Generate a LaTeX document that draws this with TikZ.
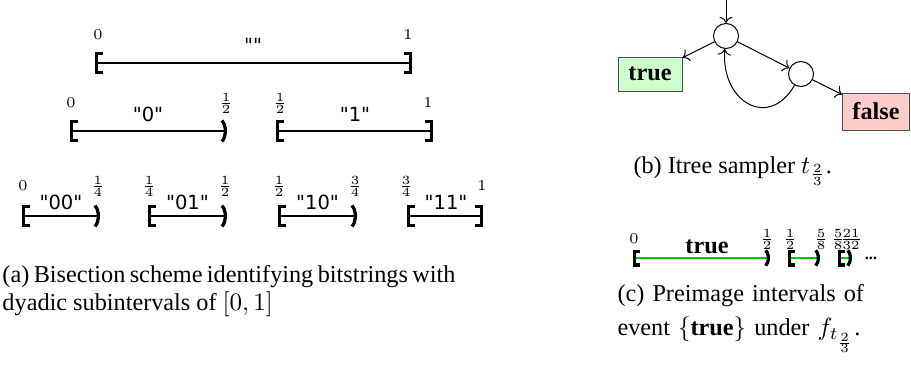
\documentclass[tikz,border=0pt]{standalone}
\usepackage[no-math]{fontspec}
\setmainfont{Liberation Serif}
\newfontfamily\bitsfont{DejaVu Sans}
\usetikzlibrary{arrows.meta,positioning}

\begin{document}
\begin{tikzpicture}[x=0.4pt,y=0.4pt,
    LB/.tip={Bracket[width=8.8pt,length=2.6pt,line width=1.3pt]},
    RB/.tip={Bracket[width=8.8pt,length=2.6pt,line width=1.3pt]},
    RP/.tip={Parenthesis[width=11pt,length=3.4pt,line width=1.3pt]},
    lb/.tip={Bracket[width=6.8pt,length=2.2pt,line width=1.3pt,color=black]},
    rp/.tip={Parenthesis[width=8.4pt,length=2.8pt,line width=1.3pt,color=black]},
    ival/.style={line width=0.45pt},
    hit/.style={line width=0.6pt,green!80!black},
    num/.style={anchor=base,inner sep=0pt,font=\fontsize{6}{7}\selectfont},
    bits/.style={anchor=base,inner sep=0pt,font=\bitsfont\fontsize{7.8}{9}\selectfont},
    st/.style={circle,draw,minimum size=10pt,inner sep=0pt},
    res/.style={draw=black!70,inner sep=0pt,font=\fontsize{9.7}{11}\selectfont\bfseries},
    captext/.style={inner sep=0pt,font=\fontsize{9.7}{11.2}\selectfont}]
  \useasboundingbox (0,0) rectangle (911,-373);
  % (a) bisection
  \coordinate (e0) at (95,-63);
  \coordinate (e1) at (412,-63);
  \draw[ival,LB-RB] (e0) -- (e1);
  \node[num] at (98,-39) {$0$};
  \node[num] at (408,-39) {$1$};
  \node[bits] at (253,-52) {""};
  \coordinate (z0) at (70,-131);
  \coordinate (z1) at (227,-131);
  \coordinate (o0) at (276,-131);
  \coordinate (o1) at (433,-131);
  \draw[ival,LB-RP] (z0) -- (z1);
  \draw[ival,LB-RB] (o0) -- (o1);
  \node[num] at (71,-107) {$0$};
  \node[num] at (226,-107) {$\frac{1}{2}$};
  \node[num] at (280,-107) {$\frac{1}{2}$};
  \node[num] at (428,-107) {$1$};
  \node[bits] at (148,-121) {"0"};
  \node[bits] at (355,-121) {"1"};
  \foreach \n/\a/\b/\la/\lb in {00/22/100/0/\frac{1}{4},01/148/227/\frac{1}{4}/\frac{1}{2},10/278/357/\frac{1}{2}/\frac{3}{4}}{
    \coordinate (s\n) at (\a,-216);
    \coordinate (t\n) at (\b,-216);
    \draw[ival,LB-RP] (s\n) -- (t\n);
    \node[num] at (\a+1,-190) {$\la$};
    \node[num] at (\b-2,-190) {$\lb$};
    \node[bits] at ({(\a+\b)/2},-209) {"\n"};
  }
  \coordinate (s11) at (407,-216);
  \coordinate (t11) at (483,-216);
  \draw[ival,LB-RB] (s11) -- (t11);
  \node[num] at (406,-190) {$\frac{3}{4}$};
  \node[num] at (482,-190) {$1$};
  \node[bits] at (446,-209) {"11"};
  \node[captext,anchor=base west,text width=181.2pt,align=justify] (capa) at (2,-282)
    {(a) Bisection scheme identifying bitstrings with\linebreak dyadic subintervals of $[0,1]$};
  % (b) sampler
  \coordinate (entry) at (726,0);
  \node[st] (c1) at (726,-36) {};
  \node[st] (c2) at (801,-74) {};
  \node[res,fill=green!20,minimum width=25.6pt,minimum height=13.6pt] (tru) at (650,-74) {true};
  \node[res,fill=red!20,minimum width=26.8pt,minimum height=14.8pt] (fls) at (876,-111.5) {false};
  \draw[->] (entry) -- (c1);
  \draw[->] (c1) -- (tru);
  \draw[->] (c1) -- (c2);
  \draw[->] (c2) -- (fls);
  \draw[->] (c2) to[out=240,in=265,looseness=1.7] (c1);
  \node[captext,anchor=base west] (capb) at (633,-173) {(b) Itree sampler $t_{\frac{2}{3}}$.};
  % (c) preimage
  \coordinate (p0) at (633,-258);
  \coordinate (p1) at (770,-258);
  \coordinate (q0) at (788,-258);
  \coordinate (q1) at (820,-258);
  \coordinate (r0) at (838,-258);
  \coordinate (r1) at (852,-258);
  \draw[hit,lb-rp] (p0) -- (p1);
  \draw[hit,lb-rp] (q0) -- (q1);
  \draw[hit,lb-rp] (r0) -- (r1);
  \node[num] at (634,-243) {$0$};
  \node[num] at (767,-243) {$\frac{1}{2}$};
  \node[num] at (790,-243) {$\frac{1}{2}$};
  \node[num] at (821,-243) {$\frac{5}{8}$};
  \node[num] at (838,-243) {$\frac{5}{8}$};
  \node[num] at (851,-243) {$\frac{21}{32}$};
  \node[res,draw=none,anchor=base] at (707,-253) {true};
  \node[inner sep=0pt,font=\fontsize{6.5}{7}\selectfont\bfseries] (more) at (871,-258) {...};
  \node[captext,anchor=base west,text width=115pt,align=left] (capc) at (617,-301)
    {(c) Preimage intervals of\\[2.6pt] event $\{$\textbf{true}$\}$ under $f_{t_{\frac{2}{3}}}$.};
\end{tikzpicture}
\end{document}
